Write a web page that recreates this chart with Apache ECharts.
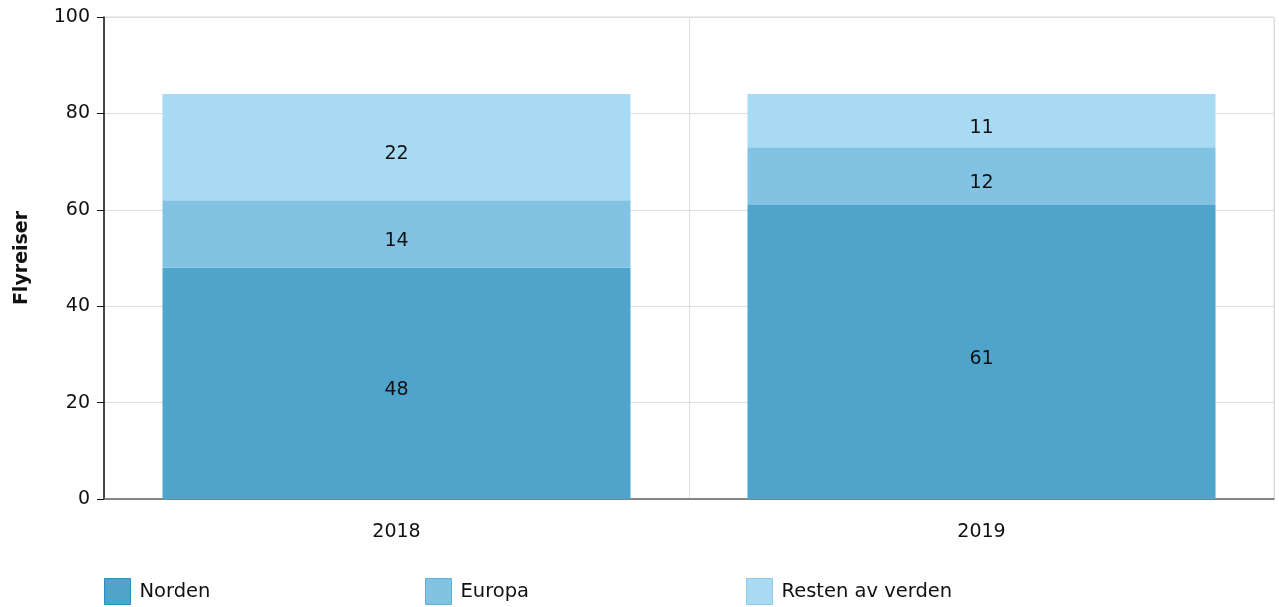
<!DOCTYPE html>
<html>
<head>
<meta charset="utf-8">
<script src="https://cdn.jsdelivr.net/npm/echarts@6/dist/echarts.min.js"></script>
<style>
  html, body { margin: 0; padding: 0; background: #fff; }
  #chart { width: 1279px; height: 607px; }
</style>
</head>
<body>
<div id="chart"></div>
<script>
// kategorier og verdier
var years = ['2018', '2019'];
var norden = [48, 61];
var europa = [14, 12];
var resten = [22, 11];
var yTicks = [0, 20, 40, 60, 80, 100];

var colors = ['#4fa4cc', '#82c3e4', '#a8dbf3'];
var borders = ['#2a8fc2', '#5fb1dc', '#8ccdee'];
var names = ['Norden', 'Europa', 'Resten av verden'];
var lists = [norden, europa, resten];
var legendLeft = [104, 425, 746];

var chart = echarts.init(document.getElementById('chart'));

var series = lists.map(function (arr, i) {
  return {
    name: names[i],
    type: 'bar',
    stack: 'total',
    barWidth: '80%',
    data: arr,
    itemStyle: { color: colors[i] },
    label: {
      show: true,
      position: 'inside',
      offset: [0, 7],
      color: '#111',
      fontSize: 19,
      fontFamily: 'DejaVu Sans'
    }
  };
});

var legends = names.map(function (n, i) {
  return {
    data: [{ name: n, itemStyle: { color: colors[i], borderColor: borders[i], borderWidth: 1 } }],
    left: legendLeft[i],
    top: 578,
    padding: 0,
    icon: 'rect',
    itemWidth: 26,
    itemHeight: 26,
    itemGap: 8,
    selectedMode: false,
    textStyle: { fontSize: 19.5, color: '#111', fontFamily: 'DejaVu Sans', padding: [0, 0, 0, 4] }
  };
});

chart.setOption({
  animation: false,
  textStyle: { fontFamily: 'DejaVu Sans' },
  legend: legends,
  grid: {
    left: 104, right: 5, top: 17, bottom: 108,
    outerBoundsMode: 'none', containLabel: false,
    show: true, borderColor: '#ddd', borderWidth: 1
  },
  xAxis: [{
    type: 'category',
    data: years,
    axisLine: { lineStyle: { color: '#666', width: 1.5 } },
    axisTick: { alignWithLabel: true, length: 8, lineStyle: { color: '#bbb' } },
    axisLabel: { fontSize: 19, color: '#111', margin: 24 },
    splitLine: { show: true, interval: 0, lineStyle: { color: '#ddd' } }
  }],
  yAxis: {
    type: 'value',
    min: yTicks[0],
    max: yTicks[yTicks.length - 1],
    interval: 20,
    name: 'Flyreiser',
    nameLocation: 'middle',
    nameGap: 72,
    nameTextStyle: { fontSize: 19, fontWeight: 'bold', color: '#111' },
    axisLine: { show: true, lineStyle: { color: '#111', width: 1.5 } },
    axisTick: { show: true, length: 7, lineStyle: { color: '#111' } },
    axisLabel: { fontSize: 19, color: '#111', margin: 14 },
    splitLine: { lineStyle: { color: '#ddd', width: 1 } }
  },
  series: series
});
</script>
</body>
</html>
